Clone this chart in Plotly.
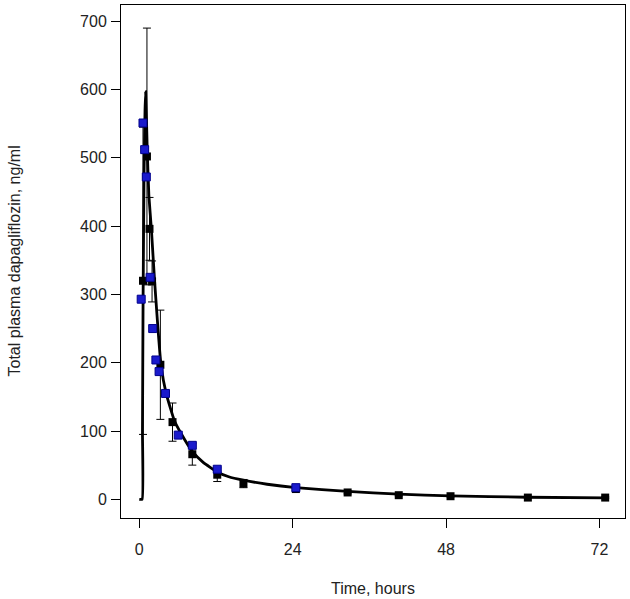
import plotly.graph_objects as go

# Model (fitted) curve
curve_t = [0, 0.45, 0.5, 0.6, 0.75, 0.9, 1.0, 1.25, 1.5, 1.9, 2.4, 3.4, 4.2, 5.5, 6.5, 8.3, 10, 12.2, 14, 16.3, 20, 24.5, 32.6, 40.6, 48.7, 60.8, 72.9]
curve_c = [0, 0, 100, 300, 480, 570, 597, 510, 445, 395, 319, 197, 155, 115, 97, 70, 54, 40, 33, 28, 22, 17, 11.5, 7.5, 5, 3, 2]

# Observed mean concentrations (black) with SD
obs_t = [0.58, 1.2, 1.6, 2.0, 3.3, 5.2, 8.3, 12.2, 16.3, 24.5, 32.6, 40.6, 48.7, 60.8, 72.9]
obs_c = [320, 502, 396, 319, 197, 113, 66, 36, 23, 15, 10, 6, 4.5, 2.5, 2.5]
obs_sd = [225, 188, 46, 30, 80, 28, 16, 10, 6, 3, 2, 1, 1, 1, 1]

# Second set (blue)
blue_t = [0.3, 0.58, 0.84, 1.1, 1.7, 2.1, 2.6, 3.1, 4.1, 6.1, 8.3, 12.2, 24.5]
blue_c = [293, 551, 512, 472, 325, 250, 204, 187, 155, 94, 79, 44, 17]

x_ticks = [0, 24, 48, 72]
y_ticks = [0, 100, 200, 300, 400, 500, 600, 700]

FONT = "Liberation Sans, Arial, sans-serif"

fig = go.Figure()
fig.add_trace(go.Scatter(x=curve_t, y=curve_c, mode="lines",
                         line=dict(color="black", width=2.8, shape="spline", smoothing=0.4),
                         showlegend=False))
fig.add_trace(go.Scatter(x=obs_t, y=obs_c, mode="markers",
                         marker=dict(symbol="square", size=8, color="black"),
                         error_y=dict(type="data", array=obs_sd, visible=True,
                                      color="black", thickness=1, width=4),
                         showlegend=False))
fig.add_trace(go.Scatter(x=blue_t, y=blue_c, mode="markers",
                         marker=dict(symbol="square", size=8, color="#1a1acc",
                                     line=dict(color="#00008b", width=1)),
                         showlegend=False))

axis_common = dict(showgrid=False, zeroline=False, showline=True, mirror=True,
                   linecolor="black", linewidth=1, ticks="outside", ticklen=9,
                   tickwidth=1, tickcolor="black",
                   tickfont=dict(family=FONT, size=16, color="#222"))

fig.update_xaxes(range=[-2.86, 76.0], tickvals=x_ticks,
                 ticktext=[str(v) for v in x_ticks], ticklabelstandoff=8, **axis_common)
fig.update_yaxes(range=[-27.4, 723.8], tickvals=y_ticks,
                 ticktext=[str(v) for v in y_ticks], ticklabelstandoff=1, **axis_common)

fig.update_layout(
    width=630, height=599,
    margin=dict(l=121, r=5, t=5, b=81),
    plot_bgcolor="white", paper_bgcolor="white",
    font=dict(family=FONT, size=16, color="#222"),
    annotations=[
        dict(text="Time, hours", xref="paper", yref="paper", x=0.5, y=0,
             yshift=-70, xanchor="center", yanchor="middle", showarrow=False,
             font=dict(family=FONT, size=16, color="#222")),
        dict(text="Total plasma dapagliflozin, ng/ml", xref="paper", yref="paper",
             x=0, y=0.5, xshift=-107, textangle=-90, xanchor="center", yanchor="middle",
             showarrow=False, font=dict(family=FONT, size=16, color="#222")),
    ],
)

fig.write_html("out.html", config={"displayModeBar": False},
               post_script="document.body.style.margin='0';document.body.style.padding='0';")
